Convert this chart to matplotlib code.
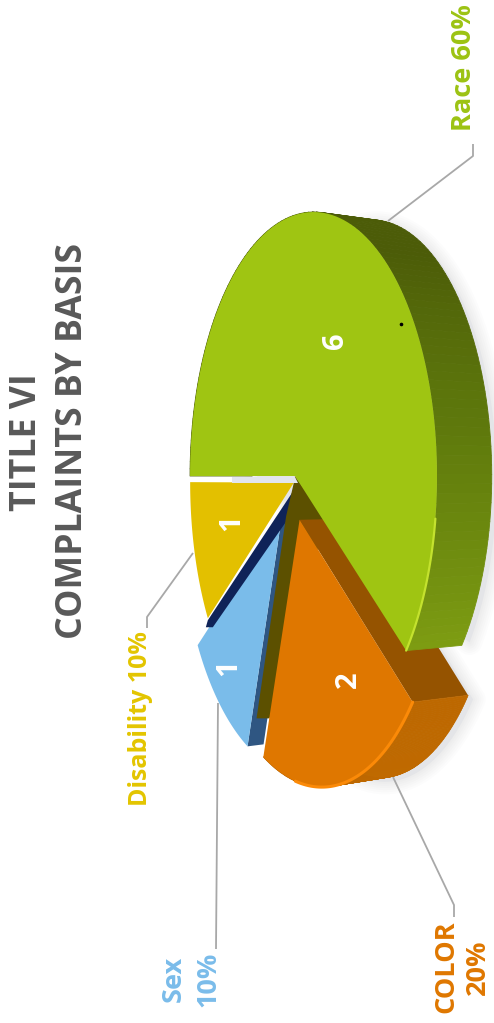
import numpy as np
import matplotlib
matplotlib.use("Agg")
import matplotlib.pyplot as plt
from matplotlib.collections import PolyCollection
from matplotlib.colors import LinearSegmentedColormap
from matplotlib.patches import Polygon

plt.rcParams["font.family"] = ["Open Sans", "DejaVu Sans"]

# complaint counts, going clockwise from the flat left edge of the Race slice
bases = ["Race", "COLOR", "Sex", "Disability"]
counts = [6, 2, 1, 1]
percents = ["60%", "20%", "10%", "10%"]
count_labels = ["6", "2", "1", "1"]

# how far each slice is pulled out of the pie, in radii
explode = {"Race": 0.0, "COLOR": 0.175, "Sex": 0.185, "Disability": 0.045}
# extra shift in pixels for the slices that do not sit on the pie's own axis
nudge = {"Race": (0, 0), "COLOR": (-2, 0), "Sex": (0, 0), "Disability": (4, 3)}
top_colors = {"Race": "#9fc512", "COLOR": "#df7700", "Sex": "#7abcea", "Disability": "#e3c000"}

# tilted disc: apex of the pie, half axes and perspective strength
CX, CY = 295, 476
RX, RY = 120.7, 261
PERSP = 0.15
DEPTH = 59
BACK_SCALE = 0.97


def project(u, v, back=False):
    u = np.asarray(u, dtype=float)
    v = np.asarray(v, dtype=float)
    w = 1 - PERSP * u
    x = RX * u / w
    y = -RY * v / w
    if back:
        return CX + DEPTH + x * BACK_SCALE, CY + y * BACK_SCALE
    return CX + x, CY + y


def slice_angles():
    fractions = np.array(counts) / sum(counts)
    edges = 180 - 360 * np.concatenate([[0], np.cumsum(fractions)])
    return {b: (edges[i], edges[i + 1]) for i, b in enumerate(bases)}


angles = slice_angles()


def offset(name):
    a0, a1 = np.radians(angles[name])
    mid = (a0 + a1) / 2
    return explode[name] * np.cos(mid), explode[name] * np.sin(mid)


def arc(name, a0=None, a1=None, back=False, n=120):
    ou, ov = offset(name)
    a0 = angles[name][0] if a0 is None else a0
    a1 = angles[name][1] if a1 is None else a1
    t = np.radians(np.linspace(a0, a1, n))
    return np.column_stack(project(ou + np.cos(t), ov + np.sin(t), back)) + nudge[name]


def apex(name, back=False):
    ou, ov = offset(name)
    return np.array(project(ou, ov, back), dtype=float) + nudge[name]


def top_face(name):
    return np.vstack([apex(name), arc(name)])


def draw_side(ax, name, colors, z):
    front = arc(name)
    rear = arc(name, back=True)
    quads = [np.vstack([front[i], front[i + 1], rear[i + 1], rear[i]]) for i in range(len(front) - 1)]
    cmap = LinearSegmentedColormap.from_list("side", colors)
    shades = cmap(np.linspace(0, 1, len(quads)))
    ax.add_collection(PolyCollection(quads, facecolors=shades, edgecolors=shades, linewidths=0.6, zorder=z))


def draw_shadow(ax, pts, z=1):
    for lw in np.arange(18, 1, -3):
        ax.add_patch(Polygon(pts + [5, 4], closed=True, facecolor="none", edgecolor="#a4a6ac",
                             linewidth=lw, alpha=0.03, joinstyle="round", zorder=z))
    ax.add_patch(Polygon(pts + [5, 4], closed=True, facecolor="#e4e5e8", edgecolor="none", zorder=z))


fig = plt.figure(figsize=(4.94, 10.23), dpi=100)
ax = fig.add_axes([0, 0, 1, 1])
ax.set_xlim(0, 494)
ax.set_ylim(1023, 0)
ax.axis("off")

# soft shadow under the two thick slices
green_rear = arc("Race", back=True)
orange_rear = arc("COLOR", back=True)
draw_shadow(ax, green_rear[:-1])
draw_shadow(ax, np.vstack([apex("COLOR", back=True), orange_rear]))

# leader lines
leader_color = "#a8a8a8"
leaders = {
    "Race": ([388, 473, 473], [221, 156, 144]),
    "COLOR": ([393, 454, 454], [777, 905, 917]),
    "Sex": ([218, 216], [703, 949]),
    "Disability": ([193, 147, 147], [553, 617, 628]),
}
for name, (lx, ly) in leaders.items():
    ax.plot(lx, ly, color=leader_color, lw=1.3, zorder=2, solid_capstyle="butt")

# Disability slice with the navy sliver along its lower edge
ax.add_patch(Polygon(top_face("Disability"), closed=True, facecolor=top_colors["Disability"], edgecolor="none", zorder=3))
y_apex = apex("Disability")
y_end = arc("Disability")[0]
ax.add_patch(Polygon([y_apex + [1, 6], y_end + [0, 2], y_end + [-2, 9], y_end + [5, 9], y_apex + [2, 25]],
                     closed=True, facecolor="#0f2358", edgecolor="none", zorder=5.5))

# Sex slice, its dark cut face and the olive wall behind it
s_apex = apex("Sex")
s_end = arc("Sex")[0]
ax.add_patch(Polygon([s_apex, s_end, s_end + [16, -2], s_apex + [16, -2]], closed=True,
                     facecolor="#2f5682", edgecolor="none", zorder=4))
ax.add_patch(Polygon(top_face("Sex"), closed=True, facecolor=top_colors["Sex"], edgecolor="none", zorder=5))
ax.add_patch(Polygon([y_apex + [0, 0], apex("Race"), s_apex + [44, 5], s_end + [22, -28], s_end + [9, -28], s_apex + [4, 2]],
                     closed=True, facecolor="#5c5000", edgecolor="none", zorder=6))

# COLOR slice: cut face, rim and top
o_apex = apex("COLOR")
o_start = arc("COLOR")[0]
ax.add_patch(Polygon([o_apex, o_start, arc("COLOR", back=True)[0], apex("COLOR", back=True)], closed=True,
                     facecolor="#955300", edgecolor="none", zorder=7))
draw_side(ax, "COLOR", ["#bd6800", "#c06a00", "#b86300"], 7)
ax.add_patch(Polygon(top_face("COLOR"), closed=True, facecolor=top_colors["COLOR"], edgecolor="none", zorder=8))
ax.plot(*arc("COLOR", -36, -92).T, color="#fb8a08", lw=2.2, zorder=8.5, solid_capstyle="round")

# Race slice sits in front of everything
draw_side(ax, "Race", ["#4b5b08", "#475608", "#4c5c08", "#4c5c08", "#5f7a0c", "#7d9c12"], 9)
ax.add_patch(Polygon(top_face("Race"), closed=True, facecolor=top_colors["Race"], edgecolor="none", zorder=10))
ax.plot(*arc("Race", -8, -36).T, color="#c4e22e", lw=1.6, zorder=10.5, solid_capstyle="round")

# pale gap between Race and Disability
gap = apex("Race")
ax.add_patch(Polygon([[232, gap[1] + 1], [gap[0], gap[1] + 1], [gap[0] + 3, gap[1] + 7], [232, gap[1] + 7]],
                     closed=True, facecolor="#e2e5ee", edgecolor="none", zorder=11))

# stray speck on the Race slice
ax.plot([400.5], [324], marker="o", ms=1.6, color="black", zorder=12)

# counts on the slices
count_pos = {"Race": (335, 341), "COLOR": (348, 680), "Sex": (229, 668), "Disability": (232, 523)}
for name, text in zip(bases, count_labels):
    ax.text(*count_pos[name], text, color="white", fontsize=21, fontweight="bold",
            rotation=90, ha="center", va="center", zorder=13)

# title
ax.text(27, 442, "TITLE VI", color="#595959", fontsize=25.7, fontweight="bold",
        rotation=90, ha="center", va="center")
ax.text(73, 441, "COMPLAINTS BY BASIS", color="#595959", fontsize=25.7, fontweight="bold",
        rotation=90, ha="center", va="center")

# category labels
label_colors = {"Race": "#9cc313", "COLOR": "#df7700", "Sex": "#7abcea", "Disability": "#e3c500"}
pct = dict(zip(bases, percents))
ax.text(464, 68, f"Race {pct['Race']}", color=label_colors["Race"], fontsize=19.5, fontweight="bold",
        rotation=90, ha="center", va="center")
ax.text(140, 719, f"Disability {pct['Disability']}", color=label_colors["Disability"], fontsize=18,
        fontweight="bold", rotation=90, ha="center", va="center")
ax.text(174, 979, "Sex", color=label_colors["Sex"], fontsize=19.5, fontweight="bold",
        rotation=90, ha="center", va="center")
ax.text(208, 979, pct["Sex"], color=label_colors["Sex"], fontsize=19.5, fontweight="bold",
        rotation=90, ha="center", va="center")
ax.text(446, 967, "COLOR", color=label_colors["COLOR"], fontsize=19.5, fontweight="bold",
        rotation=90, ha="center", va="center")
ax.text(478, 967, pct["COLOR"], color=label_colors["COLOR"], fontsize=19.5, fontweight="bold",
        rotation=90, ha="center", va="center")

fig.savefig("out.png", dpi=100)
